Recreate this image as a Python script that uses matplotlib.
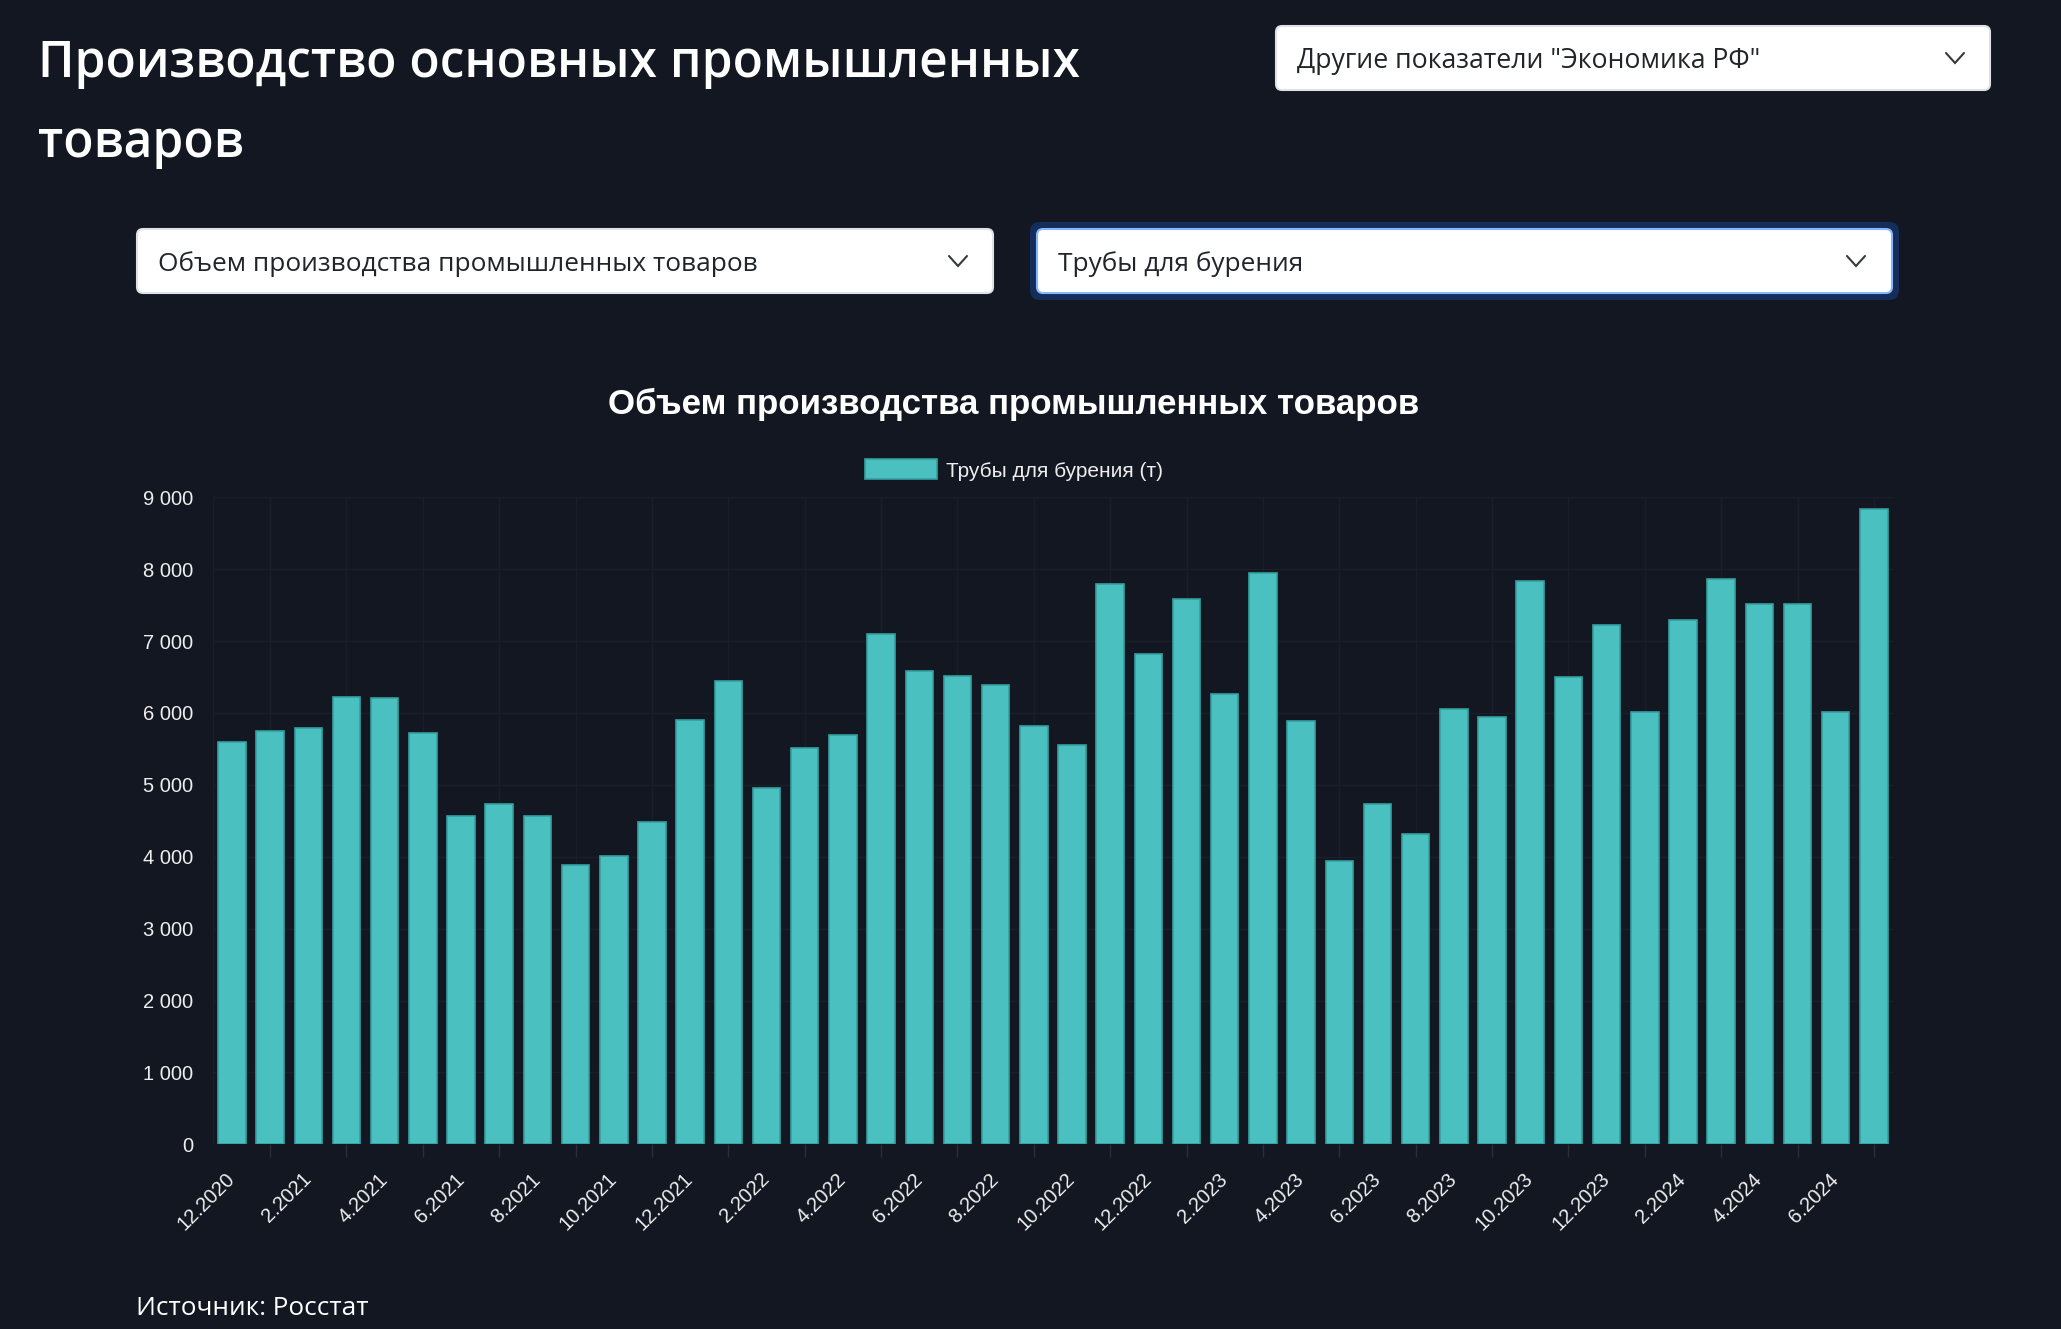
import matplotlib
matplotlib.use("Agg")
import matplotlib.pyplot as plt
from matplotlib.patches import FancyBboxPatch
from matplotlib.lines import Line2D

# Производство труб для бурения, т (Росстат)
months = [
    "12.2020", "1.2021", "2.2021", "3.2021", "4.2021", "5.2021", "6.2021",
    "7.2021", "8.2021", "9.2021", "10.2021", "11.2021", "12.2021",
    "1.2022", "2.2022", "3.2022", "4.2022", "5.2022", "6.2022", "7.2022",
    "8.2022", "9.2022", "10.2022", "11.2022", "12.2022",
    "1.2023", "2.2023", "3.2023", "4.2023", "5.2023", "6.2023", "7.2023",
    "8.2023", "9.2023", "10.2023", "11.2023", "12.2023",
    "1.2024", "2.2024", "3.2024", "4.2024", "5.2024", "6.2024", "7.2024",
]
values = [
    5590, 5750, 5790, 6220, 6210, 5720, 4560,
    4740, 4560, 3890, 4010, 4490, 5900,
    6440, 4950, 5510, 5690, 7100, 6580, 6510,
    6390, 5820, 5550, 7790, 6820,
    7590, 6260, 7950, 5890, 3940, 4730, 4320,
    6050, 5950, 7830, 6500, 7220,
    6020, 7300, 7860, 7510, 7510, 6020, 8840,
]
y_ticks = [0, 1000, 2000, 3000, 4000, 5000, 6000, 7000, 8000, 9000]

page_title = ["Производство основных промышленных", "товаров"]
chart_title = "Объем производства промышленных товаров"
series_name = "Трубы для бурения (т)"
source = "Источник: Росстат"

W, H, DPI = 2061, 1329, 100
BG = "#131722"
GRID = "#1a1e28"
TICK = "#2a2e38"
TEAL = "#4bc0c0"
TEAL_EDGE = "#35a0a0"
LIGHT = "#eeeeee"
PAGE_FONT = ["Open Sans", "DejaVu Sans"]
CHART_FONT = ["Liberation Sans", "DejaVu Sans"]

fig = plt.figure(figsize=(W / DPI, H / DPI), dpi=DPI, facecolor=BG)
renderer = fig.canvas.get_renderer()
tr = fig.dpi_scale_trans


def inch(x, y):
    # пиксели (от левого верхнего угла) -> дюймы фигуры
    return x / DPI, (H - y) / DPI


def fit(txt, width_px):
    w = txt.get_window_extent(renderer).width
    txt.set_fontsize(txt.get_fontsize() * width_px / w)
    return txt


def dropdown(x0, y0, x1, y1, text, tx, base, tw, cx, focus=False):
    if focus:
        ring = FancyBboxPatch(inch(x0 - 7, y1 + 7), (x1 - x0 + 14) / DPI,
                              (y1 - y0 + 14) / DPI,
                              boxstyle="round,pad=0,rounding_size=0.1",
                              fc="#142d5a", ec="none", transform=tr)
        fig.add_artist(ring)
    box = FancyBboxPatch(inch(x0, y1), (x1 - x0) / DPI, (y1 - y0) / DPI,
                         boxstyle="round,pad=0,rounding_size=0.06",
                         fc="white", ec="#86b7fe" if focus else "#dee2e6",
                         lw=1.5, transform=tr)
    fig.add_artist(box)
    t = fig.text(*inch(tx, base), text, transform=tr, fontsize=20,
                 family=PAGE_FONT, color="#212529", va="baseline")
    fit(t, tw)
    yc = (y0 + y1) / 2
    xs = [(cx - 9) / DPI, cx / DPI, (cx + 9) / DPI]
    ys = [(H - yc + 5) / DPI, (H - yc - 5) / DPI, (H - yc + 5) / DPI]
    fig.add_artist(Line2D(xs, ys, transform=tr, color="#343a40", lw=1.5,
                          solid_joinstyle="miter", solid_capstyle="round"))


# заголовок страницы
t1 = fig.text(*inch(38, 77), page_title[0], transform=tr, fontsize=36,
              family=PAGE_FONT, weight="semibold", color="white",
              va="baseline")
fit(t1, 1042)
fig.text(*inch(38, 157), page_title[1], transform=tr,
         fontsize=t1.get_fontsize(), family=PAGE_FONT, weight="semibold",
         color="white", va="baseline")

# выпадающие списки
dropdown(1276, 26, 1990, 90, 'Другие показатели "Экономика РФ"',
         1297, 68, 462, 1955)
dropdown(137, 229, 993, 293, chart_title, 158, 271, 598, 958)
dropdown(1037, 229, 1892, 293, "Трубы для бурения", 1058, 271, 245, 1856,
         focus=True)

# график
ax = fig.add_axes([212.8 / W, 1 - 1144.3 / H, 1680.2 / W, 647 / H])
ax.set_facecolor(BG)
x = list(range(len(values)))
bars = ax.bar(x, values, width=0.72, color=TEAL, edgecolor=TEAL_EDGE,
              linewidth=1.2, label=series_name, zorder=2)

ax.set_xlim(-0.5, len(values) - 0.5)
ax.set_ylim(0, 9000)
ax.set_yticks(y_ticks, [f"{v:,}".replace(",", " ") for v in y_ticks])
ax.set_xticks(x[::2], months[::2])
ax.set_xticks(x[1::2], minor=True)
ax.set_axisbelow(True)

ax.grid(axis="y", color=GRID, lw=1)
ax.grid(axis="x", which="minor", color=GRID, lw=1)
for side in ["top", "right", "bottom"]:
    ax.spines[side].set_visible(False)
ax.spines["left"].set_color(GRID)

ax.tick_params(axis="y", length=0, pad=14, labelsize=14.5, labelcolor=LIGHT)
ax.tick_params(axis="x", which="major", length=0, pad=23, labelsize=14.5,
               labelcolor=LIGHT)
ax.tick_params(axis="x", which="minor", length=9, width=1, color=TICK)
for lab in ax.get_yticklabels():
    lab.set_family(CHART_FONT)
for lab in ax.get_xticklabels():
    lab.set_family(CHART_FONT)
    lab.set_rotation(45)
    lab.set_ha("right")
    lab.set_va("center")
    lab.set_rotation_mode("anchor")

ct = fig.text(*inch(1014, 414), chart_title, transform=tr, fontsize=24,
              family=CHART_FONT, weight="bold", color="white",
              ha="center", va="baseline")
fit(ct, 814)

fig.legend(handles=[bars], loc="center", bbox_to_anchor=inch(1014, 470),
           bbox_transform=tr, frameon=False, handlelength=3.45,
           handleheight=1.1, handletextpad=0.45, borderpad=0,
           labelcolor=LIGHT, prop={"family": CHART_FONT, "size": 15})

src = fig.text(*inch(136, 1315), source, transform=tr, fontsize=19,
               family=PAGE_FONT, color="white", va="baseline")
fit(src, 232)

fig.savefig("out.png", dpi=DPI, facecolor=BG)
